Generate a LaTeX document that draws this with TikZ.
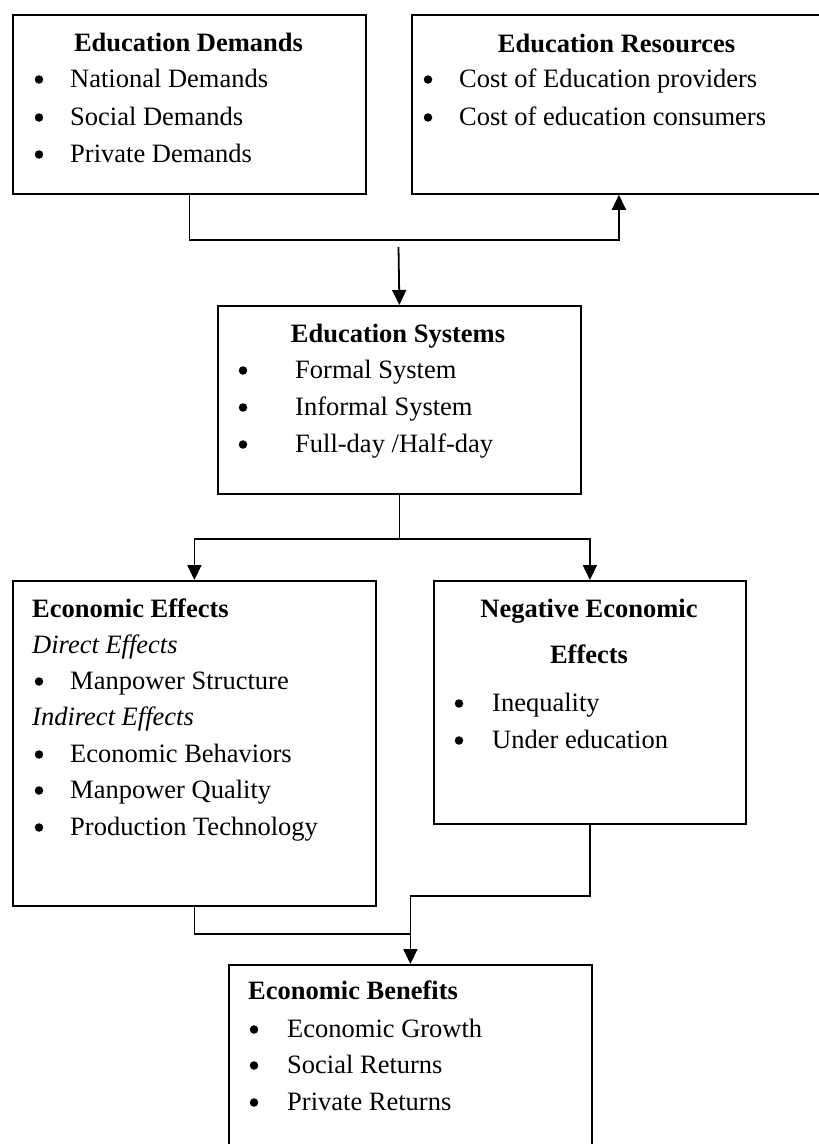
\documentclass[tikz,border=0pt]{standalone}
\usepackage{fontspec}
\setmainfont{Liberation Serif}
\usetikzlibrary{arrows.meta,calc}
\begin{document}
\fontsize{26.5}{36}\selectfont
\begin{tikzpicture}[x=1pt,y=-1pt,
  box/.style={draw, line width=1.8pt, rectangle, inner sep=0pt, anchor=north west},
  link/.style={line width=1.8pt},
  arr/.style={link, -{Triangle[length=15pt,width=14pt]}},
  ttl/.style={inner sep=0pt, anchor=base, font=\bfseries},
  ttlw/.style={inner sep=0pt, anchor=base west, font=\bfseries},
  item/.style={inner sep=0pt, anchor=base west},
  sub/.style={inner sep=0pt, anchor=base west, font=\itshape},
  dot/.style={circle, fill, inner sep=0pt, minimum size=8.5pt}]

% page area
\path[use as bounding box, clip] (0,0) rectangle (819,1144);
\fill[white] (0,0) rectangle (819,1144);

% boxes
\node[box, minimum width=353pt, minimum height=179pt] (dem) at (12,14) {};
\node[box, minimum width=414pt, minimum height=179pt] (res) at (411,14) {};
\node[box, minimum width=363pt, minimum height=188pt] (sys) at (217,305) {};
\node[box, minimum width=363pt, minimum height=325pt] (eff) at (12,580) {};
\node[box, minimum width=312pt, minimum height=243pt] (neg) at (433,580) {};
\node[box, minimum width=363pt, minimum height=200pt] (ben) at (228,964) {};

% Education Demands
\node[ttl] (demT) at (188.5,51) {Education Demands};
\node[dot] (demB1) at (39,79.5) {};
\node[item] (demI1) at (70,87) {National Demands};
\node[dot] (demB2) at (39,117.5) {};
\node[item] (demI2) at (70,125) {Social Demands};
\node[dot] (demB3) at (39,154.5) {};
\node[item] (demI3) at (70,162) {Private Demands};

% Education Resources
\node[ttl] (resT) at (616.5,52) {Education Resources};
\node[dot] (resB1) at (428,79.5) {};
\node[item] (resI1) at (459,87) {Cost of Education providers};
\node[dot] (resB2) at (428,117.5) {};
\node[item] (resI2) at (459,125) {Cost of education consumers};

% Education Systems
\node[ttl] (sysT) at (398,342) {Education Systems};
\node[dot] (sysB1) at (243,370.5) {};
\node[item] (sysI1) at (295,378) {Formal System};
\node[dot] (sysB2) at (243,407.5) {};
\node[item] (sysI2) at (295,415) {Informal System};
\node[dot] (sysB3) at (243,444.5) {};
\node[item] (sysI3) at (295,452) {Full-day /Half-day};

% Economic Effects
\node[ttlw] (effT) at (32,617) {Economic Effects};
\node[sub] (effS1) at (32,653) {Direct Effects};
\node[dot] (effB1) at (39,681.5) {};
\node[item] (effI1) at (70,689) {Manpower Structure};
\node[sub] (effS2) at (32,725) {Indirect Effects};
\node[dot] (effB2) at (39,754.5) {};
\node[item] (effI2) at (70,762) {Economic Behaviors};
\node[dot] (effB3) at (39,790.5) {};
\node[item] (effI3) at (70,798) {Manpower Quality};
\node[dot] (effB4) at (39,827.5) {};
\node[item] (effI4) at (70,835) {Production Technology};

% Negative Economic Effects
\node[ttl] (negT1) at (589,617) {Negative Economic};
\node[ttl] (negT2) at (589,663) {Effects};
\node[dot] (negB1) at (459,703.5) {};
\node[item] (negI1) at (492,711) {Inequality};
\node[dot] (negB2) at (459,740.5) {};
\node[item] (negI2) at (492,748) {Under education};

% Economic Benefits
\node[ttlw] (benT) at (248,999) {Economic Benefits};
\node[dot] (benB1) at (254,1029.5) {};
\node[item] (benI1) at (287,1037) {Economic Growth};
\node[dot] (benB2) at (254,1065.5) {};
\node[item] (benI2) at (287,1073) {Social Returns};
\node[dot] (benB3) at (254,1102.5) {};
\node[item] (benI3) at (287,1110) {Private Returns};

% connectors
\draw[arr] (dem.south) -- ++(0,45) -| (res.south);
\coordinate (top) at (398.5,247);
\draw[arr] (top) -- (sys.north);
\draw[link] (sys.south) -- ++(0,44) coordinate (fork);
\draw[arr] (fork) -| (eff.north);
\draw[arr] (fork) -| (neg.north);
\draw[arr] (neg.south) -- ++(0,71) -| (ben.north);
\draw[link] (eff.south) |- ($(ben.north)+(0,-30)$);
\end{tikzpicture}
\end{document}
